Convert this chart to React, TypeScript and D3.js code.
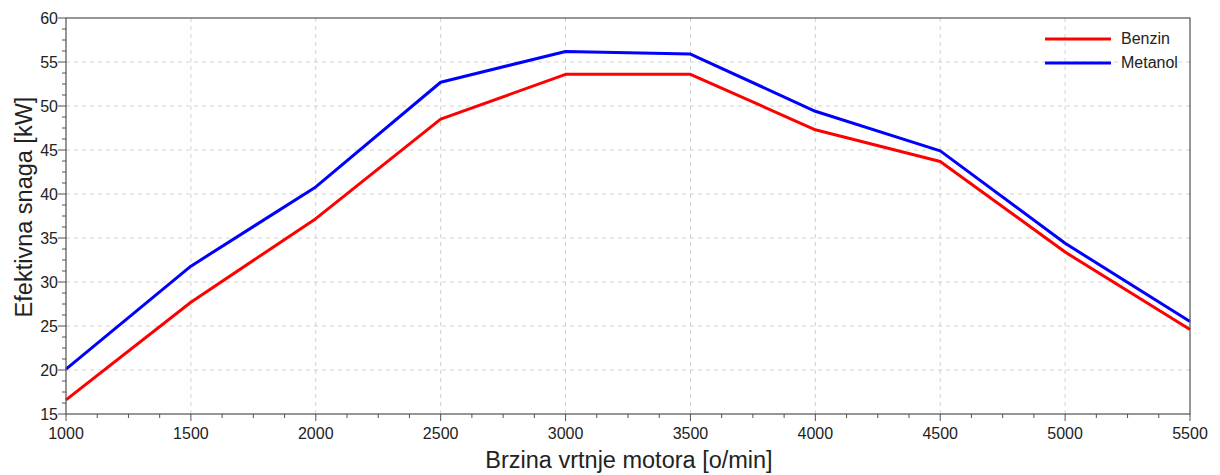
import React from "react";
import * as d3 from "d3";

const rpm = [1000, 1500, 2000, 2500, 3000, 3500, 4000, 4500, 5000, 5500];
const benzin = [16.6, 27.7, 37.2, 48.5, 53.6, 53.6, 47.3, 43.7, 33.4, 24.6];
const metanol = [20.1, 31.8, 40.8, 52.7, 56.2, 55.9, 49.4, 44.9, 34.4, 25.5];
const xTicks = [1000, 1500, 2000, 2500, 3000, 3500, 4000, 4500, 5000, 5500];
const yTicks = [15, 20, 25, 30, 35, 40, 45, 50, 55, 60];
const seriesNames = ["Benzin", "Metanol"];
const seriesColors = ["#ff0000", "#0000ff"];

export default function App() {
  const W = 1220, H = 475;
  const L = 66, R = 1190, T = 18, B = 414;
  const x = d3.scaleLinear().domain([1000, 5500]).range([L, R]);
  const y = d3.scaleLinear().domain([15, 60]).range([B, T]);
  const line = d3.line<number>().x((_, i) => x(rpm[i])).y((d) => y(d));
  const xMinor = d3.range(1000, 5500.1, 125).filter((v) => v % 500 !== 0);
  const yMinor = d3.range(15, 60.01, 1.25).filter((v) => v % 5 !== 0);
  const font = "Arial, 'Liberation Sans', sans-serif";
  const data = [benzin, metanol];
  return (
    <svg width={W} height={H} style={{ position: "absolute", left: 0, top: 0 }} fontFamily={font}>
      <rect width={W} height={H} fill="#fff" />
      {xTicks.slice(1, -1).map((t) => (
        <line key={"gx" + t} x1={x(t)} x2={x(t)} y1={T} y2={B} stroke="#d0d0d0" strokeDasharray="4,4" />
      ))}
      {yTicks.slice(1, -1).map((t) => (
        <line key={"gy" + t} x1={L} x2={R} y1={y(t)} y2={y(t)} stroke="#d0d0d0" strokeDasharray="4,4" />
      ))}
      {data.map((d, i) => (
        <path key={i} d={line(d) || ""} fill="none" stroke={seriesColors[i]} strokeWidth={3} strokeLinejoin="round" />
      ))}
      <rect x={L} y={T} width={R - L} height={B - T} fill="none" stroke="#505050" strokeWidth={1.2} />
      {xTicks.map((t) => (
        <g key={"xt" + t}>
          <line x1={x(t)} x2={x(t)} y1={B} y2={B + 7} stroke="#505050" />
          <text x={x(t)} y={B + 25} textAnchor="middle" fontSize={16} fill="#222">{t}</text>
        </g>
      ))}
      {xMinor.map((t) => (
        <line key={"xm" + t} x1={x(t)} x2={x(t)} y1={B} y2={B + 4} stroke="#505050" />
      ))}
      {yTicks.map((t) => (
        <g key={"yt" + t}>
          <line x1={L - 8} x2={L} y1={y(t)} y2={y(t)} stroke="#505050" />
          <text x={L - 8} y={y(t) + 6} textAnchor="end" fontSize={16} fill="#222">{t}</text>
        </g>
      ))}
      {yMinor.map((t) => (
        <line key={"ym" + t} x1={L - 4} x2={L} y1={y(t)} y2={y(t)} stroke="#505050" />
      ))}
      <text x={629} y={468} textAnchor="middle" fontSize={23.5} fill="#222">Brzina vrtnje motora [o/min]</text>
      <text transform={`translate(32,207) rotate(-90)`} textAnchor="middle" fontSize={23.5} fill="#222">Efektivna snaga [kW]</text>
      {seriesNames.map((n, i) => (
        <g key={n}>
          <line x1={1045} x2={1111} y1={39 + i * 24} y2={39 + i * 24} stroke={seriesColors[i]} strokeWidth={3} />
          <text x={1121} y={44 + i * 24} fontSize={16} fill="#222">{n}</text>
        </g>
      ))}
    </svg>
  );
}
